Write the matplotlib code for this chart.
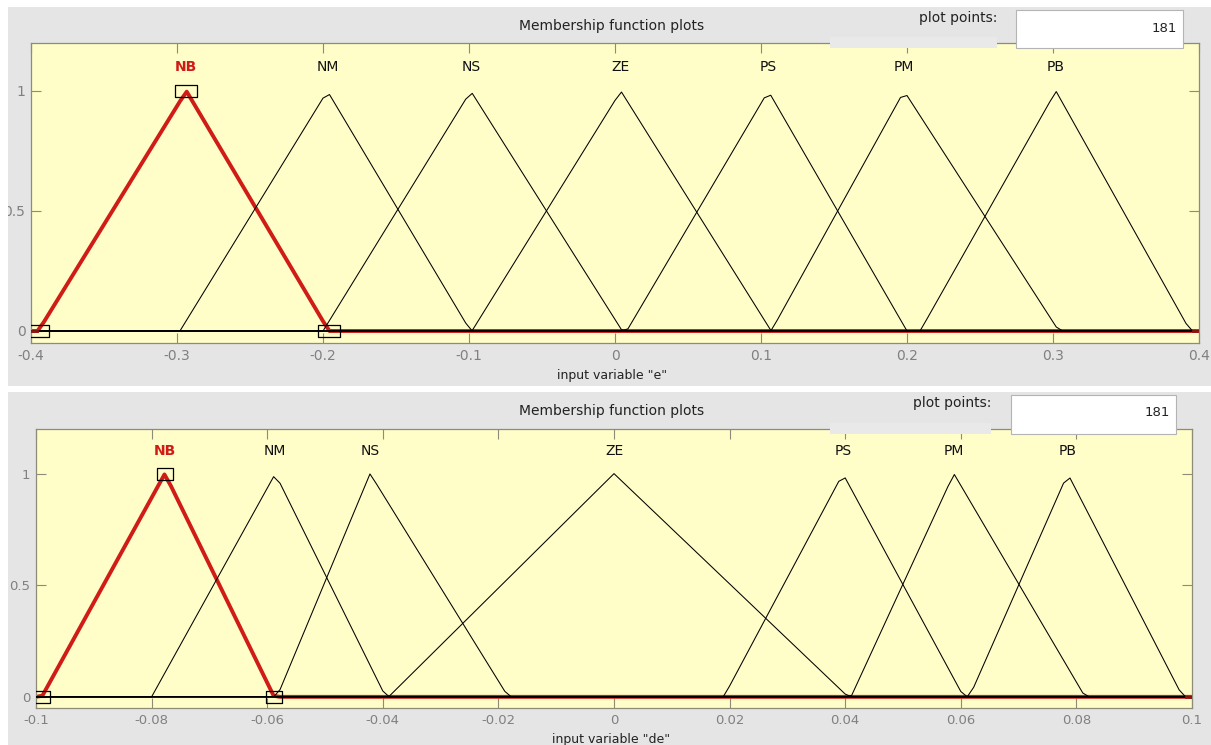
import numpy as np
import matplotlib.pyplot as plt
from matplotlib.patches import Rectangle
from matplotlib.path import Path

# membership function sets for the two input variables
mf_names = ['NB', 'NM', 'NS', 'ZE', 'PS', 'PM', 'PB']

e_range = [-0.4, 0.4]
e_ticks = [-0.4, -0.3, -0.2, -0.1, 0, 0.1, 0.2, 0.3, 0.4]
e_params = [[-0.395, -0.2936, -0.196],
            [-0.298, -0.197, -0.099],
            [-0.200, -0.0988, 0.005],
            [-0.098, 0.004, 0.107],
            [0.008, 0.105, 0.200],
            [0.107, 0.198, 0.304],
            [0.209, 0.302, 0.394]]

de_range = [-0.1, 0.1]
de_ticks = [-0.1, -0.08, -0.06, -0.04, -0.02, 0, 0.02, 0.04, 0.06, 0.08, 0.1]
de_params = [[-0.099, -0.0777, -0.0588],
             [-0.080, -0.0586, -0.0395],
             [-0.0583, -0.0422, -0.0183],
             [-0.039, 0.0, 0.0405],
             [0.019, 0.0396, 0.0605],
             [0.041, 0.0588, 0.0815],
             [0.0615, 0.0785, 0.0984]]

plot_points = 181
selected = 0  # highlighted MF (NB)

W, H = 1211, 745
PANEL = '#e5e5e5'
FACE = '#fffdc8'
EDGE = '#8c8c78'
TICKC = '#808080'
RED = '#d01c16'
DARKRED = '#8e1510'

plt.rcParams['font.family'] = ['DejaVu Sans']


def trimf(x, a, b, c):
    left = (x - a) / (b - a)
    right = (c - x) / (c - b)
    return np.maximum(np.minimum(left, right), 0)


def rect(fig, x, y, w, h, color, z):
    # pixel box (top-left origin) -> figure fraction
    r = Rectangle((x / W, 1 - (y + h) / H), w / W, h / H, transform=fig.transFigure,
                  facecolor=color, edgecolor='none', zorder=z)
    fig.add_artist(r)
    return r


def box_marker(ratio):
    return Path([(-1, -ratio), (1, -ratio), (1, ratio), (-1, ratio), (-1, -ratio)],
                [Path.MOVETO, Path.LINETO, Path.LINETO, Path.LINETO, Path.CLOSEPOLY])


def draw_panel(fig, ax_px, xr, ticks, params, xlabel, marker, msize, tsize):
    x0, y0, x1, y1 = ax_px
    ax = fig.add_axes([x0 / W, 1 - y1 / H, (x1 - x0) / W, (y1 - y0) / H])
    ax.set_facecolor(FACE)
    x = np.linspace(xr[0], xr[1], plot_points)

    sel = trimf(x, *params[selected])
    others = np.max([trimf(x, *p) for j, p in enumerate(params) if j != selected], axis=0)

    # highlighted MF, black ones on top of it
    ax.plot(x, sel, color=RED, lw=2.8, zorder=2)
    for i, (a, b, c) in enumerate(params):
        if i != selected:
            ax.plot(x, trimf(x, a, b, c), color='black', lw=0.75, zorder=3)
    # where everything is zero the red baseline shows through darker
    ax.plot(x, np.where((others == 0) & (sel == 0), 0, np.nan), color=DARKRED, lw=2.0, zorder=3.5)

    a, b, c = params[selected]
    ax.plot([a, b, c], [0, 1, 0], ls='none', marker=marker, ms=msize,
            mfc='none', mec='black', mew=0.9, zorder=4)

    for i, (name, p) in enumerate(zip(mf_names, params)):
        hl = i == selected
        ax.text(p[1], 1.1, name, ha='center', va='center', fontsize=10,
                color=RED if hl else '#111111', fontweight='bold' if hl else 'normal')

    ax.set_xlim(xr)
    ax.set_ylim(-0.05, 1.2)
    ax.set_xticks(ticks)
    ax.set_xticklabels([f'{t:g}' for t in ticks])
    ax.set_yticks([0, 0.5, 1])
    ax.set_yticklabels(['0', '0.5', '1'])
    ax.tick_params(direction='in', length=7, width=0.8, color=EDGE, labelcolor=TICKC,
                   labelsize=tsize, top=True, right=True, pad=4)
    for s in ax.spines.values():
        s.set_color(EDGE)
        s.set_linewidth(0.9)
    fig.text(((x0 + x1) / 2 - 3) / W, 1 - (y1 + 32) / H, xlabel, ha='center', va='center',
             fontsize=9, color='#222222', zorder=6)
    return ax


fig = plt.figure(figsize=(W / 100, H / 100), dpi=100, facecolor='white')

# grey window panels
rect(fig, 8, 7, W - 8, 379, PANEL, -10)
rect(fig, 8, 392, W - 8, H - 392, PANEL, -10)

draw_panel(fig, (31, 43, 1199, 343), e_range, e_ticks, e_params,
           'input variable "e"', box_marker(0.56), 16, 10)
draw_panel(fig, (36, 429, 1192, 708), de_range, de_ticks, de_params,
           'input variable "de"', box_marker(0.8), 11.5, 9.5)

# left margin cuts the tick labels that spill out of the window
rect(fig, 0, 0, 8, H, 'white', 5)

# header row: title, plot points label and edit box
for top, ax_top, box_x0, box_x1, lbl_x in [(7, 43, 1016, 1183, 997), (392, 429, 1011, 1176, 991)]:
    fig.text(612 / W, 1 - (top + 19) / H, 'Membership function plots', ha='center',
             va='center', fontsize=10, color='#222222', zorder=6)
    rect(fig, 830, ax_top - 6, lbl_x - 830, 11, '#e9e9e9', 5)
    fig.text(lbl_x / W, 1 - (top + 11) / H, 'plot points:', ha='right', va='center',
             fontsize=10, color='#222222', zorder=6)
    r = rect(fig, box_x0, top + 3, box_x1 - box_x0, ax_top + 5 - top - 3, 'white', 5)
    r.set_edgecolor('#b4b4b4')
    r.set_linewidth(0.8)
    fig.text((box_x1 - 6) / W, 1 - (top + 21) / H, str(plot_points), ha='right',
             va='center', fontsize=9.5, color='#222222', zorder=6)

fig.savefig('out.png', dpi=100, facecolor='white')
